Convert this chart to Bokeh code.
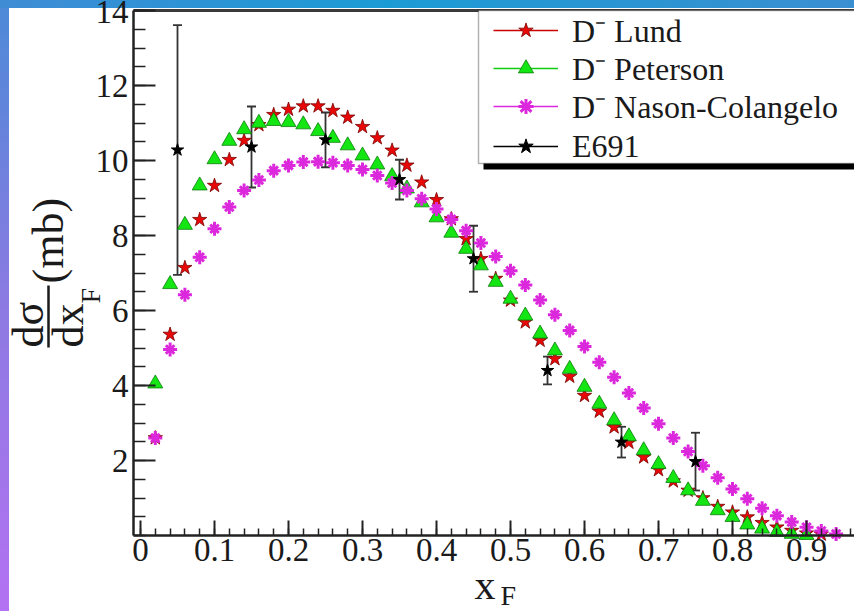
import math
from bokeh.plotting import figure
from bokeh.models import (FixedTicker, LinearAxis, Range1d, Legend, LegendItem,
                          Whisker, TeeHead, ColumnDataSource, BoxAnnotation)
from bokeh.core.properties import value
from bokeh.embed import file_html
from bokeh.resources import INLINE

# ---------------- data ----------------
lund_x = [0.02, 0.04, 0.06, 0.08, 0.10, 0.12, 0.14, 0.16, 0.18, 0.20, 0.22, 0.24,
          0.26, 0.28, 0.30, 0.32, 0.34, 0.36, 0.38, 0.40, 0.42, 0.44, 0.46, 0.48,
          0.50, 0.52, 0.54, 0.56, 0.58, 0.60, 0.62, 0.64, 0.66, 0.68, 0.70, 0.72,
          0.74, 0.76, 0.78, 0.80, 0.82, 0.84, 0.86, 0.88, 0.90, 0.92]
lund_y = [2.60, 5.36, 7.14, 8.42, 9.33, 10.02, 10.53, 10.95, 11.22, 11.36, 11.45, 11.45,
          11.33, 11.15, 10.90, 10.60, 10.27, 9.87, 9.42, 8.95, 8.44, 7.91, 7.38, 6.85,
          6.27, 5.69, 5.20, 4.71, 4.24, 3.73, 3.31, 2.89, 2.48, 2.09, 1.75, 1.45,
          1.20, 1.00, 0.77, 0.62, 0.49, 0.34, 0.22, 0.13, 0.06, 0.03]

peterson_x = [0.02, 0.04, 0.06, 0.08, 0.10, 0.12, 0.14, 0.16, 0.18, 0.20, 0.22, 0.24,
              0.26, 0.28, 0.30, 0.32, 0.34, 0.36, 0.38, 0.40, 0.42, 0.44, 0.46, 0.48,
              0.50, 0.52, 0.54, 0.56, 0.58, 0.60, 0.62, 0.64, 0.66, 0.68, 0.70, 0.72,
              0.74, 0.76, 0.78, 0.80, 0.82, 0.84, 0.86, 0.88, 0.90]
peterson_y = [4.05, 6.70, 8.28, 9.33, 10.03, 10.52, 10.83, 11.00, 11.05, 11.02, 10.96, 10.78,
              10.60, 10.40, 10.13, 9.89, 9.58, 9.25, 8.88, 8.48, 8.07, 7.64, 7.20, 6.76,
              6.31, 5.86, 5.38, 4.93, 4.44, 3.96, 3.51, 3.07, 2.64, 2.27, 1.90, 1.53,
              1.20, 0.92, 0.67, 0.49, 0.29, 0.18, 0.09, 0.04, 0.01]

nason_x = [0.02, 0.04, 0.06, 0.08, 0.10, 0.12, 0.14, 0.16, 0.18, 0.20, 0.22, 0.24,
           0.26, 0.28, 0.30, 0.32, 0.34, 0.36, 0.38, 0.40, 0.42, 0.44, 0.46, 0.48,
           0.50, 0.52, 0.54, 0.56, 0.58, 0.60, 0.62, 0.64, 0.66, 0.68, 0.70, 0.72,
           0.74, 0.76, 0.78, 0.80, 0.82, 0.84, 0.86, 0.88, 0.90, 0.92, 0.94]
nason_y = [2.60, 4.96, 6.42, 7.42, 8.18, 8.76, 9.20, 9.48, 9.73, 9.87, 9.96, 9.97,
           9.94, 9.87, 9.76, 9.60, 9.40, 9.20, 8.98, 8.71, 8.43, 8.13, 7.80, 7.44,
           7.06, 6.68, 6.28, 5.89, 5.47, 5.04, 4.62, 4.22, 3.80, 3.40, 2.98, 2.60,
           2.24, 1.86, 1.54, 1.24, 0.98, 0.73, 0.53, 0.36, 0.22, 0.12, 0.04]

e691_x = [0.05, 0.15, 0.25, 0.35, 0.45, 0.55, 0.65, 0.75]
e691_y = [10.28, 10.36, 10.55, 9.49, 7.38, 4.40, 2.49, 1.97]
e691_err = [3.33, 1.08, 0.73, 0.53, 0.88, 0.37, 0.41, 0.77]

x_ticks = [0, 0.1, 0.2, 0.3, 0.4, 0.5, 0.6, 0.7, 0.8, 0.9]
x_tick_labels = ["0", "0.1", "0.2", "0.3", "0.4", "0.5", "0.6", "0.7", "0.8", "0.9"]
y_ticks = [2, 4, 6, 8, 10, 12, 14]

legend_labels = ["D\u207b Lund", "D\u207b Peterson", "D\u207b Nason-Colangelo", "E691"]

SERIF = "Liberation Serif"
RED, RED_EDGE = "#e80808", "#7a0000"
GREEN, GREEN_EDGE = "#14e614", "#0b7d0b"
MAGENTA = "#dc28dc"
INK = "#1a1a1a"

W, H = 854, 611
PX0, PXS = 140, 740      # pixel of x=0, pixels per unit x
PY0, PYS = 535, 37.5     # pixel of y=0, pixels per unit y
X_LEFT, X_RIGHT_AXIS = (133 - PX0) / PXS, 1.0


def dx_(px):
    return (px - PX0) / PXS


def dy_(py):
    return (PY0 - py) / PYS


p = figure(width=W, height=H, output_backend="svg", toolbar_location=None,
           x_range=Range1d(dx_(0), dx_(W)), y_range=Range1d(dy_(H), dy_(0)),
           min_border_left=0, min_border_right=0, min_border_top=0, min_border_bottom=0)
p.outline_line_color = None
p.grid.visible = False
p.background_fill_color = None
p.border_fill_color = None
p.styles = {
    "background": (
        "linear-gradient(#ffffff,#ffffff) 9px 8px / calc(100% - 9px) calc(100% - 8px) no-repeat, "
        "linear-gradient(to right, #3f8cd5, #1b9bd4 45%, #3a8fd1) 0 0 / 100% 8px no-repeat, "
        "linear-gradient(to bottom, #4c8ad8, #8c7ae2 50%, #b372f2) 0 0 / 9px 100% no-repeat"
    )
}

xa = p.xaxis[0]
xa.fixed_location = 0
xa.bounds = (X_LEFT, X_RIGHT_AXIS)
xa.ticker = FixedTicker(ticks=x_ticks, minor_ticks=[i / 50 for i in range(0, 49)])
xa.major_label_overrides = {t: lab for t, lab in zip(x_ticks, x_tick_labels)}
ya = p.yaxis[0]
ya.fixed_location = X_LEFT
ya.bounds = (0, 14)
ya.ticker = FixedTicker(ticks=y_ticks, minor_ticks=[i / 2 for i in range(0, 29)])
for ax, tin, mtin in ((xa, 15, 7), (ya, 22, 12)):
    ax.axis_line_width = 2.5
    ax.axis_line_color = "#222222"
    ax.major_tick_in = tin
    ax.major_tick_out = 0
    ax.minor_tick_in = mtin
    ax.minor_tick_out = 0
    ax.major_tick_line_width = 2
    ax.minor_tick_line_width = 1.5
    ax.major_tick_line_color = "#222222"
    ax.minor_tick_line_color = "#222222"
    ax.major_label_text_font = SERIF
    ax.major_label_text_font_size = "33px"
    ax.major_label_text_color = INK
xa.major_label_standoff = 3
ya.major_label_standoff = 5

top = LinearAxis(ticker=FixedTicker(ticks=[]), major_label_text_font_size="0px",
                 axis_line_width=3, axis_line_color="#3a3a3a",
                 fixed_location=14, bounds=(X_LEFT, X_RIGHT_AXIS))
p.add_layout(top, "above")

# ---------------- series ----------------
r_lund = p.scatter(lund_x, lund_y, marker="star", size=15, fill_color=RED,
                   line_color=RED_EDGE, line_width=0.8)
r_pet = p.scatter(peterson_x, peterson_y, marker="triangle", size=15, fill_color=GREEN,
                  line_color=GREEN_EDGE, line_width=0.8)
r_nas1 = p.scatter(nason_x, nason_y, marker="x", size=12, line_color=MAGENTA, line_width=3)
r_nas2 = p.scatter(nason_x, nason_y, marker="cross", size=14, line_color=MAGENTA, line_width=3)

esrc = ColumnDataSource(dict(x=e691_x, y=e691_y,
                             upper=[a + b for a, b in zip(e691_y, e691_err)],
                             lower=[a - b for a, b in zip(e691_y, e691_err)]))
wh = Whisker(base="x", upper="upper", lower="lower", source=esrc,
             line_color="#333333", line_width=1.8,
             upper_head=TeeHead(size=9, line_color="#333333", line_width=1.8),
             lower_head=TeeHead(size=9, line_color="#333333", line_width=1.8))
p.add_layout(wh)
r_e = p.scatter("x", "y", source=esrc, marker="star", size=13, fill_color="black",
                line_color="black")

# hidden line renderers: only used to draw the line in each legend glyph
l_lund = p.line(lund_x, lund_y, line_color="#cc0000", line_width=1.5, visible=False)
l_pet = p.line(peterson_x, peterson_y, line_color="#10cc10", line_width=1.5, visible=False)
l_nas = p.line(nason_x, nason_y, line_color=MAGENTA, line_width=1.5, visible=False)
l_e = p.line(e691_x, e691_y, line_color="black", line_width=1.5, visible=False)

# legend box + shadow
shadow = BoxAnnotation(left=dx_(483), right=3, bottom=dy_(169), top=13.9, fill_color="black",
                       fill_alpha=1, line_color=None)
box = BoxAnnotation(left=dx_(478), right=3, bottom=dy_(163), top=14, fill_color="white",
                    fill_alpha=1, line_color="black", line_width=1.5)
p.add_layout(shadow)
p.add_layout(box)

# one legend row per entry, so that the row pitch matches the reference
entries = [[l_lund, r_lund], [l_pet, r_pet], [l_nas, r_nas1, r_nas2], [l_e, r_e]]
ROW0, PITCH, HALF = 30, 38, 21
for i, (lbl, rends) in enumerate(zip(legend_labels, entries)):
    lg = Legend(items=[LegendItem(label=lbl, renderers=rends)],
                location=(493, H - (ROW0 + PITCH * i + HALF)),
                border_line_color=None, background_fill_alpha=0,
                label_text_font=SERIF, label_text_font_size="32px", label_text_color=INK,
                label_height=38, glyph_height=38, glyph_width=65, label_standoff=14,
                spacing=0, padding=0, margin=0)
    p.add_layout(lg)

# ---------------- axis titles (text pieces placed through the scales) ----------------
R = math.pi / 2


def txt(text, px, py, size, angle=0.0):
    # (px, py) is the centre line of the text (text_baseline="middle")
    p.text(x=[dx_(px)], y=[dy_(py)], text=[text], angle=angle,
           text_font=value(SERIF), text_font_size=value(size), text_color=INK,
           text_align="left", text_baseline="middle")


txt("d\u03c3", 28, 347, "44px", R)
txt("dx", 68, 347, "44px", R)
txt("F", 90, 303, "28px", R)
txt("(mb)", 48, 283, "44px", R)
p.segment(x0=[dx_(48)], y0=[dy_(347)], x1=[dx_(48)], y1=[dy_(285)],
          line_width=2.5, line_color=INK)
txt("x", 474, 584, "42px")
txt("F", 500, 595, "28px")

open("out.html", "w").write(file_html(p, INLINE))
